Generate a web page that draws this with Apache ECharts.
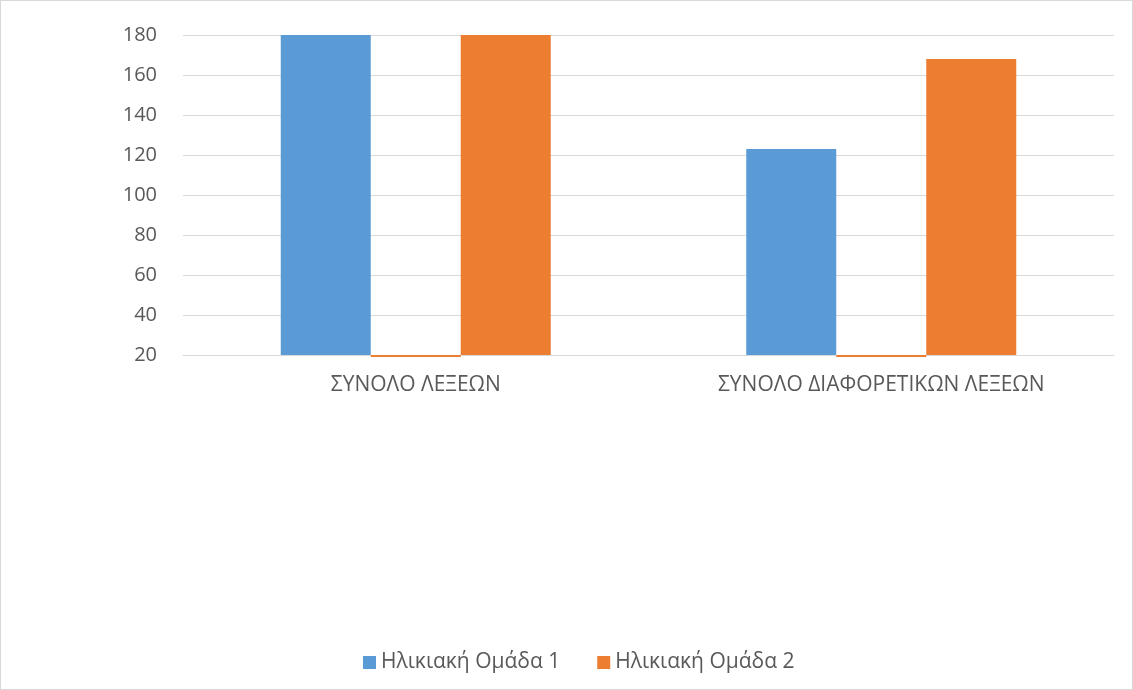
<!DOCTYPE html>
<html>
<head>
<meta charset="utf-8">
<script src="https://cdn.jsdelivr.net/npm/echarts@6/dist/echarts.min.js"></script>
<style>
html,body{margin:0;padding:0;background:#fff;}
#c{width:1131px;height:688px;border:1px solid #d9d9d9;}
</style>
</head>
<body>
<div id="c"></div>
<script>
const categories = ['ΣΥΝΟΛΟ ΛΕΞΕΩΝ', 'ΣΥΝΟΛΟ ΔΙΑΦΟΡΕΤΙΚΩΝ ΛΕΞΕΩΝ'];
const group1 = [180, 123];
const group2a = [19, 19];
const group2b = [180, 168];
const seriesNames = ['Ηλικιακή Ομάδα 1', 'Ηλικιακή Ομάδα 2'];
const yMin = 20, yMax = 180, yStep = 20;

const chart = echarts.init(document.getElementById('c'));
const font = 'Open Sans';
chart.setOption({
  animation: false,
  textStyle: {fontFamily: font},
  grid: {left: 182, right: 18, top: 34, bottom: 334, containLabel: false},
  legend: {
    data: seriesNames,
    top: 646,
    left: 357,
    itemWidth: 13, itemHeight: 13, itemGap: 37,
    icon: 'rect',
    textStyle: {color: '#595959', fontSize: 21, fontFamily: font}
  },
  xAxis: {
    type: 'category',
    data: categories,
    axisLine: {lineStyle: {color: '#d9d9d9', width: 1}},
    axisTick: {show: false},
    axisLabel: {color: '#595959', fontSize: 21, margin: 20, fontFamily: font}
  },
  yAxis: {
    type: 'value',
    min: yMin, max: yMax, interval: yStep,
    startValue: yMin,
    axisLine: {show: false},
    axisTick: {show: false},
    splitLine: {lineStyle: {color: '#d9d9d9', width: 1}},
    axisLabel: {color: '#595959', fontSize: 20, margin: 26, fontFamily: font}
  },
  series: [
    {name: seriesNames[0], type: 'bar', data: group1, barGap: '0%', barCategoryGap: '42%',
     itemStyle: {color: '#5b9bd5'}},
    {name: seriesNames[1], type: 'bar', data: group2a, clip: false,
     itemStyle: {color: '#ed7d31'}},
    {name: seriesNames[1], type: 'bar', data: group2b,
     itemStyle: {color: '#ed7d31'}}
  ]
});
</script>
</body>
</html>
